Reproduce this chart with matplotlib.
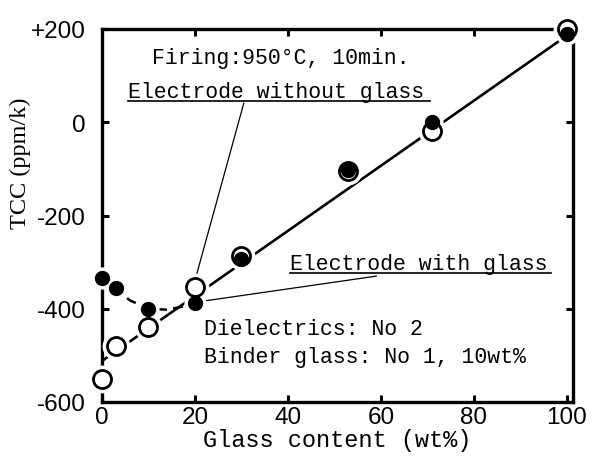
import matplotlib
matplotlib.use('Agg')
import matplotlib.pyplot as plt

MONO = 'Liberation Mono'
SANS = 'Liberation Sans'
SERIF = 'Liberation Serif'

# electrode without glass (open circles)
open_x = [0, 3, 10, 20, 30, 53, 71, 100]
open_y = [-550, -480, -440, -354, -287, -104, -18, 200]

# electrode with glass (filled circles)
fill_x = [0, 3, 10, 20, 30, 53, 71, 100]
fill_y = [-333, -356, -400, -387, -293, -102, 0, 190]

# straight fit line
fit_x = [0, 100]
fit_y = [-512, 186]

# dashed curve through low-glass filled points
curve_x = [0, 3, 6, 10, 14, 18, 21]
curve_y = [-333, -358, -382, -400, -402, -394, -382]

x_ticks = [0, 20, 40, 60, 80, 100]
y_ticks = [-600, -400, -200, 0, 200]
y_tick_labels = ['-600', '-400', '-200', '0', '+200']

fig = plt.figure(figsize=(5.92, 4.60), dpi=100)
ax = fig.add_axes([102 / 592, 1 - 403 / 460, 471 / 592, 373 / 460])
ax.set_xlim(0, 101.3)
ax.set_ylim(-600, 200)

for s in ax.spines.values():
    s.set_linewidth(2.4)

ax.set_xticks(x_ticks)
ax.set_yticks(y_ticks)
ax.set_yticklabels(y_tick_labels)
ax.tick_params(direction='in', length=5, width=2.2, top=True, right=True,
               labelsize=17.5)
for lab in ax.get_xticklabels() + ax.get_yticklabels():
    lab.set_fontfamily(SANS)
ax.tick_params(axis='x', pad=3)
ax.tick_params(axis='y', pad=12)

ax.set_xlabel('Glass content (wt%)', fontfamily=MONO, fontsize=17, labelpad=0)
ax.set_ylabel('TCC (ppm/k)', fontfamily=SERIF, fontsize=17.5)
ax.yaxis.set_label_coords(-0.15, 0.643)

ax.plot(fit_x, fit_y, color='black', lw=1.9, zorder=3)
ax.plot(curve_x, curve_y, color='black', lw=1.8, ls=(0, (4, 2.5)), zorder=3)

# white halos so the lines break around the markers
ax.plot(open_x, open_y, 'o', ms=19, mfc='white', mec='white', zorder=4, clip_on=False)
ax.plot(fill_x, fill_y, 'o', ms=15, mfc='white', mec='white', zorder=4, clip_on=False)

ax.plot(open_x, open_y, 'o', ms=13, mfc='white', mec='black', mew=2.0, zorder=5, clip_on=False)
ax.plot(fill_x, fill_y, 'o', ms=10, mfc='black', mec='black', zorder=6, clip_on=False)

# annotations
ax.text(10.8, 139, 'Firing:950\u00b0C, 10min.', fontfamily=MONO, fontsize=15.5,
        ha='left', va='center')
ax.text(5.6, 67, 'Electrode without glass', fontfamily=MONO, fontsize=15.5,
        ha='left', va='center')
ax.plot([5.6, 70.5], [45, 45], color='black', lw=1.2)
ax.plot([30.5, 20.2], [41, -332], color='black', lw=0.9)

ax.text(40.5, -302, 'Electrode with glass', fontfamily=MONO, fontsize=15.5,
        ha='left', va='center')
ax.plot([40.5, 96.5], [-323, -323], color='black', lw=1.2)
ax.plot([59, 21.5], [-330, -384], color='black', lw=0.9)

ax.text(22, -443, 'Dielectrics: No 2', fontfamily=MONO, fontsize=15.5,
        ha='left', va='center')
ax.text(22, -502, 'Binder glass: No 1, 10wt%', fontfamily=MONO, fontsize=15.5,
        ha='left', va='center')

fig.savefig('out.png', dpi=100, facecolor='white')
